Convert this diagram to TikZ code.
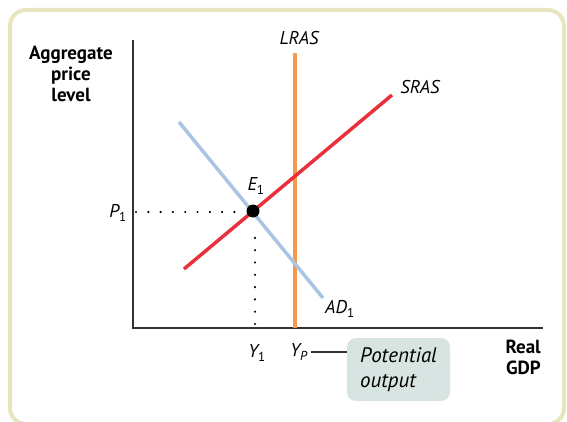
\documentclass[tikz,border=0pt]{standalone}
\usepackage{fontspec}
\setmainfont{PT Sans}
\begin{document}
\begin{tikzpicture}[x=1pt,y=-1pt,
  lab/.style={font=\fontsize{18.5}{20}\selectfont\itshape, inner sep=0pt},
  axlab/.style={font=\fontsize{19}{21}\selectfont\bfseries, inner sep=0pt, align=center},
  curve/.style={line width=3.5pt},
  dots/.style={line width=2.4pt, dash pattern=on 0pt off 12.3pt, line cap=round}]
\useasboundingbox (0,0) rectangle (567,422);
\definecolor{frameC}{HTML}{E8E4BE}
\definecolor{lrasC}{HTML}{F59A4C}
\definecolor{srasC}{HTML}{E8313C}
\definecolor{adC}{HTML}{AAC4E4}
\definecolor{boxC}{HTML}{D8E4E1}
\draw[frameC, line width=4pt, rounded corners=16pt] (10,10) rectangle (564,424);
% axes
\coordinate (O) at (133,328);
\coordinate (ytop) at (133,40);
\coordinate (xend) at (543,328);
\draw[line width=1.4pt, black!80] (ytop) -- (O) -- (xend);
% curves
\coordinate (lrasT) at (295,53);
\coordinate (lrasB) at (295,328);
\draw[lrasC, curve] (lrasT) -- (lrasB);
\coordinate (adA) at (179,122);
\coordinate (adB) at (323,298);
\draw[adC, curve] (adA) -- (adB);
\coordinate (srA) at (184,269);
\coordinate (srB) at (392,95);
\draw[srasC, curve] (srA) -- (srB);
% equilibrium
\node[circle, fill=black, inner sep=0pt, minimum size=13pt] (E) at (253,211) {};
\coordinate (p1end) at (136,212);
\coordinate (p1stop) at (240,212);
\coordinate (y1end) at (255,324);
\coordinate (y1stop) at (255,232);
\draw[dots] (p1end) -- (p1stop);
\draw[dots] (y1end) -- (y1stop);
% labels
\node[lab] (lLRAS) at (299,38) {LRAS};
\node[lab] (lSRAS) at (420,87) {SRAS};
\node[lab, anchor=west] (lAD) at (325,309) {AD\textsubscript{\upshape 1}};
\node[lab] (lE) at (256,186) {E\textsubscript{\upshape 1}};
\node[lab] (lP) at (118,213) {P\textsubscript{\upshape 1}};
\node[lab] (lY1) at (257,353) {Y\textsubscript{\upshape 1}};
\node[lab] (lYP) at (299,352) {Y\textsubscript{P}};
\node[axlab] (ylab) at (71,74) {Aggregate\\price\\level};
\node[axlab, align=right, anchor=north east] (xlab) at (541,340) {Real\\GDP};
\node[fill=boxC, rounded corners=9pt, minimum width=103pt, minimum height=63pt, inner sep=0pt,
  font=\fontsize{21}{25}\selectfont\itshape, align=left] (pot) at (398.5,369.5) {Potential\\output};
\draw[line width=1.2pt, black!80] (lYP.east) ++(3,0) coordinate (tk) -- (pot.west |- tk);
\end{tikzpicture}
\end{document}
